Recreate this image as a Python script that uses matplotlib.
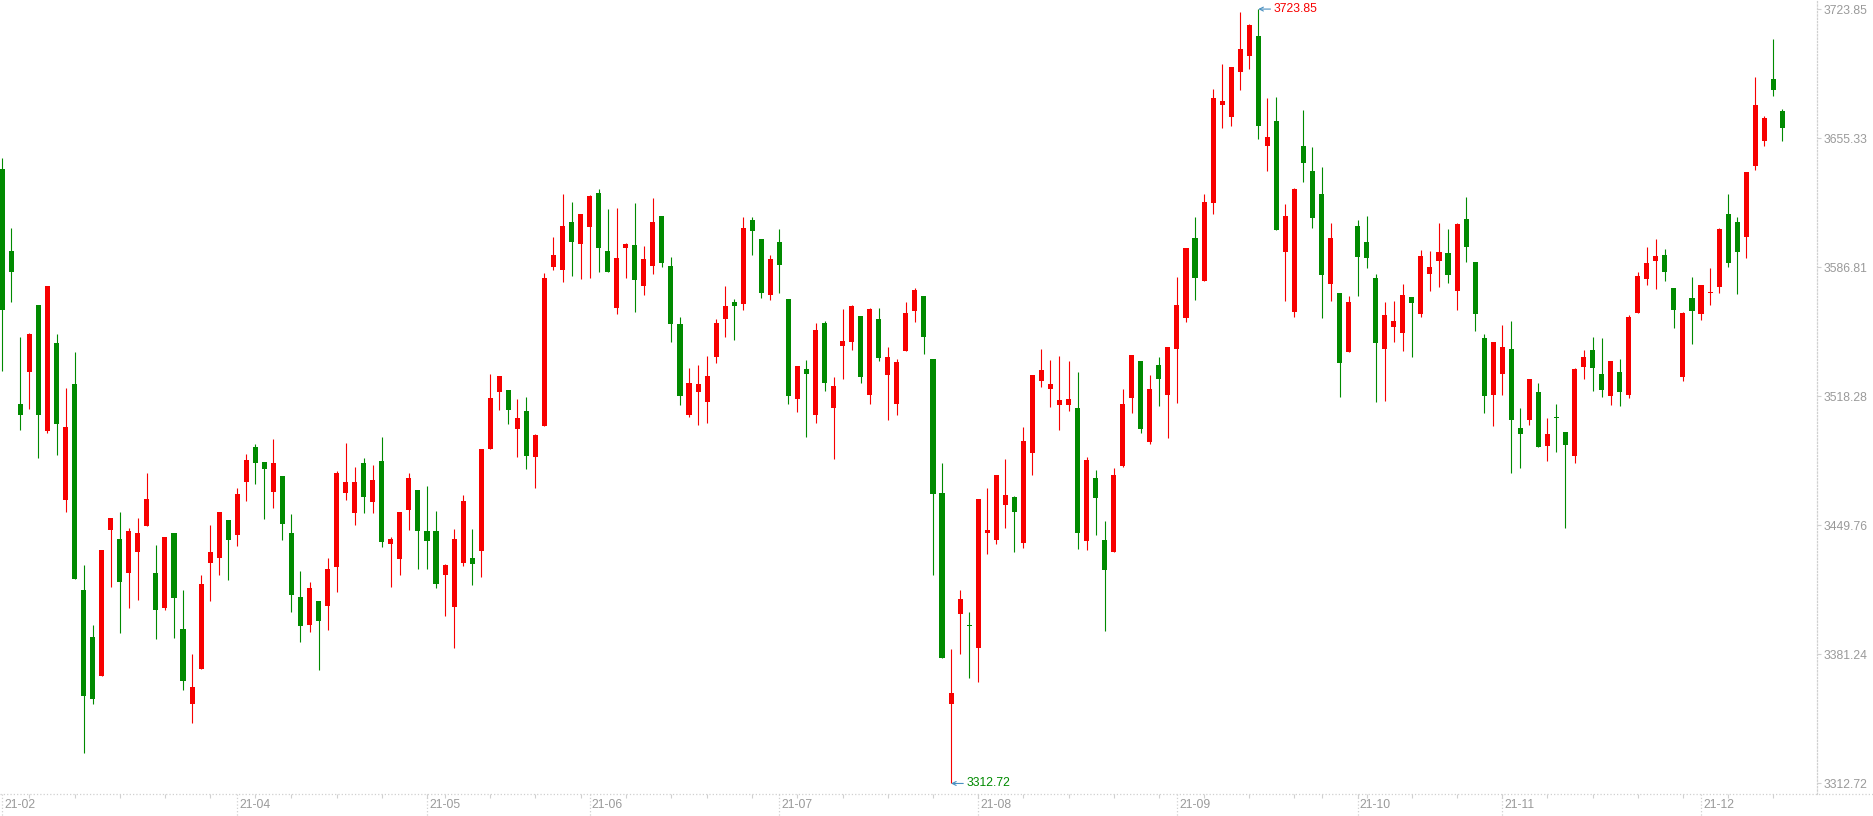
import matplotlib
matplotlib.use("Agg")
import matplotlib.pyplot as plt
import matplotlib.transforms as mtransforms
from matplotlib.lines import Line2D
import numpy as np
import pandas as pd

plt.rcParams["font.family"] = ["Liberation Sans", "DejaVu Sans"]

# trading days (weekdays minus exchange holidays)
holidays = ["2021-04-05", "2021-05-03", "2021-05-04", "2021-05-05", "2021-06-14",
            "2021-09-20", "2021-09-21", "2021-10-01", "2021-10-04", "2021-10-05",
            "2021-10-06", "2021-10-07"]
dates = pd.bdate_range("2021-02-24", "2021-12-14")
dates = dates[~dates.isin(pd.to_datetime(holidays))]

opens = [3639.0, 3595.6, 3514.4, 3531.0, 3566.8, 3499.8, 3546.7, 3463.1, 3524.9, 3415.7,
         3390.3, 3369.8, 3447.1, 3442.3, 3424.5, 3435.6, 3449.4, 3424.3, 3405.8, 3445.5,
         3394.5, 3354.9, 3373.6, 3429.7, 3432.5, 3452.4, 3444.6, 3472.7, 3491.6, 3483.6,
         3467.5, 3475.7, 3445.9, 3411.5, 3396.8, 3409.8, 3406.9, 3427.6, 3466.8, 3456.2,
         3483.0, 3462.0, 3484.0, 3439.8, 3431.8, 3457.8, 3468.3, 3446.5, 3446.5, 3423.5,
         3406.5, 3429.7, 3432.3, 3436.0, 3490.1, 3520.3, 3521.4, 3500.8, 3510.7, 3485.9,
         3502.3, 3586.8, 3585.1, 3610.9, 3599.3, 3608.4, 3626.2, 3595.6, 3565.0, 3596.8,
         3598.7, 3576.7, 3587.2, 3614.0, 3587.6, 3556.8, 3508.1, 3520.3, 3515.1, 3539.4,
         3559.1, 3568.5, 3567.1, 3611.9, 3601.9, 3572.3, 3600.2, 3570.0, 3516.7, 3532.9,
         3508.1, 3557.2, 3511.9, 3544.8, 3547.3, 3561.0, 3518.8, 3559.3, 3529.7, 3514.2,
         3542.5, 3563.3, 3571.7, 3537.9, 3467.0, 3354.7, 3402.7, 3397.0, 3384.4, 3445.9,
         3442.1, 3460.8, 3464.9, 3440.4, 3488.0, 3526.4, 3522.2, 3513.6, 3513.6, 3511.9,
         3441.7, 3475.0, 3441.9, 3435.8, 3481.3, 3517.4, 3536.9, 3493.9, 3535.1, 3519.0,
         3543.5, 3559.7, 3602.4, 3579.6, 3621.1, 3673.1, 3666.4, 3690.7, 3698.7, 3709.6,
         3650.9, 3664.5, 3594.7, 3562.8, 3651.3, 3638.1, 3625.7, 3577.7, 3573.3, 3541.6,
         3608.7, 3600.4, 3581.3, 3543.3, 3554.9, 3551.7, 3571.2, 3561.8, 3583.2, 3589.9,
         3594.5, 3574.1, 3612.5, 3589.7, 3549.0, 3519.0, 3530.1, 3543.5, 3501.2, 3505.6,
         3520.3, 3491.9, 3507.0, 3499.1, 3486.5, 3533.7, 3543.1, 3530.3, 3518.4, 3531.4,
         3519.0, 3562.4, 3580.4, 3589.9, 3593.4, 3576.0, 3528.4, 3570.6, 3561.8, 3572.9,
         3576.2, 3615.2, 3611.0, 3602.7, 3640.8, 3654.0, 3686.7, 3669.8]
highs = [3644.8, 3607.7, 3549.9, 3551.9, 3566.8, 3576.9, 3551.5, 3522.8, 3541.9, 3428.9,
         3396.6, 3436.9, 3453.9, 3457.0, 3448.6, 3453.9, 3477.7, 3439.2, 3443.8, 3445.5,
         3415.3, 3381.7, 3423.2, 3449.7, 3457.0, 3452.4, 3469.8, 3487.4, 3492.8, 3483.6,
         3495.4, 3475.7, 3455.9, 3425.3, 3419.9, 3409.8, 3432.3, 3478.8, 3493.7, 3480.9,
         3485.3, 3481.9, 3496.8, 3443.4, 3457.0, 3477.7, 3468.7, 3470.8, 3457.6, 3429.5,
         3447.6, 3466.0, 3447.6, 3490.5, 3530.2, 3529.1, 3521.4, 3517.0, 3518.0, 3498.1,
         3583.8, 3602.9, 3625.8, 3621.4, 3615.1, 3625.1, 3628.3, 3617.8, 3618.2, 3599.7,
         3620.9, 3598.1, 3623.7, 3614.0, 3592.2, 3560.6, 3533.5, 3535.0, 3539.8, 3559.5,
         3576.9, 3570.0, 3613.6, 3613.6, 3601.9, 3593.3, 3607.1, 3570.0, 3534.6, 3537.7,
         3557.2, 3558.5, 3528.7, 3564.7, 3566.8, 3561.0, 3565.2, 3565.2, 3544.4, 3537.9,
         3568.3, 3575.8, 3571.7, 3537.9, 3483.0, 3384.2, 3415.3, 3403.5, 3463.7, 3469.6,
         3476.7, 3485.1, 3465.4, 3501.8, 3529.5, 3543.4, 3537.5, 3539.6, 3536.9, 3531.2,
         3486.1, 3479.2, 3451.9, 3480.2, 3522.0, 3540.0, 3536.9, 3529.5, 3538.9, 3544.2,
         3581.7, 3597.2, 3613.6, 3625.7, 3681.5, 3694.7, 3693.2, 3722.4, 3715.9, 3723.85,
         3676.7, 3677.3, 3620.5, 3629.1, 3670.4, 3650.7, 3640.2, 3610.4, 3573.3, 3571.6,
         3612.1, 3614.2, 3583.4, 3568.5, 3569.1, 3578.1, 3571.2, 3596.2, 3595.5, 3610.4,
         3607.3, 3610.2, 3624.3, 3589.7, 3551.5, 3547.3, 3556.3, 3558.4, 3512.3, 3527.6,
         3525.5, 3507.0, 3514.4, 3499.1, 3533.5, 3543.1, 3550.0, 3549.4, 3537.2, 3537.9,
         3561.6, 3584.4, 3597.6, 3602.0, 3596.6, 3576.0, 3563.2, 3581.7, 3577.1, 3586.5,
         3607.7, 3625.7, 3613.6, 3637.5, 3687.8, 3667.0, 3707.9, 3670.8]
lows = [3531.6, 3568.1, 3500.2, 3511.7, 3485.5, 3498.7, 3487.0, 3456.8, 3421.4, 3328.7,
        3354.9, 3369.8, 3417.0, 3392.8, 3405.8, 3410.0, 3449.4, 3389.5, 3404.6, 3389.9,
        3362.4, 3345.0, 3373.6, 3409.6, 3423.5, 3420.7, 3438.8, 3462.7, 3471.7, 3453.0,
        3458.9, 3441.9, 3403.7, 3387.8, 3393.1, 3372.9, 3394.3, 3414.4, 3463.1, 3449.9,
        3456.2, 3456.2, 3438.1, 3417.0, 3423.5, 3447.1, 3426.6, 3426.6, 3416.5, 3401.6,
        3384.7, 3428.3, 3418.0, 3422.4, 3490.1, 3510.9, 3503.5, 3485.9, 3479.6, 3469.6,
        3502.3, 3585.1, 3578.8, 3581.9, 3580.3, 3581.3, 3584.0, 3584.0, 3561.8, 3581.3,
        3562.9, 3572.3, 3583.4, 3586.8, 3546.9, 3513.6, 3507.1, 3502.9, 3504.0, 3536.2,
        3549.7, 3548.4, 3564.3, 3593.5, 3570.2, 3569.2, 3573.3, 3514.0, 3510.2, 3496.6,
        3504.0, 3520.9, 3484.9, 3527.2, 3542.7, 3525.1, 3514.0, 3537.1, 3505.6, 3508.1,
        3542.5, 3557.8, 3540.8, 3423.4, 3379.4, 3312.72, 3381.3, 3368.9, 3366.6, 3434.5,
        3440.0, 3448.6, 3435.8, 3437.9, 3476.3, 3523.2, 3512.5, 3500.4, 3510.4, 3437.3,
        3436.9, 3444.8, 3393.5, 3435.8, 3480.5, 3509.4, 3498.9, 3492.8, 3513.1, 3496.1,
        3514.6, 3557.6, 3569.3, 3579.6, 3614.8, 3660.5, 3661.6, 3681.1, 3692.2, 3655.1,
        3637.7, 3606.4, 3568.7, 3560.5, 3631.8, 3607.5, 3559.7, 3568.7, 3517.7, 3541.6,
        3571.4, 3586.3, 3515.2, 3515.6, 3547.1, 3542.3, 3539.1, 3560.5, 3574.1, 3576.2,
        3578.3, 3563.9, 3589.4, 3552.8, 3509.3, 3502.4, 3519.0, 3477.5, 3480.2, 3503.1,
        3491.3, 3484.0, 3488.6, 3448.3, 3482.9, 3527.4, 3521.1, 3517.7, 3513.5, 3513.1,
        3517.3, 3562.4, 3577.3, 3575.2, 3579.4, 3554.4, 3526.3, 3545.8, 3558.6, 3566.6,
        3572.9, 3586.7, 3572.5, 3591.5, 3638.3, 3650.9, 3677.5, 3654.0]
closes = [3563.9, 3584.5, 3508.6, 3551.5, 3508.1, 3576.9, 3503.5, 3502.1, 3421.4, 3359.3,
          3357.6, 3436.9, 3453.4, 3419.7, 3446.9, 3445.9, 3463.5, 3404.8, 3443.8, 3411.1,
          3367.3, 3363.7, 3418.4, 3435.4, 3457.0, 3441.9, 3466.6, 3484.7, 3482.8, 3479.6,
          3482.6, 3450.5, 3412.8, 3396.4, 3416.7, 3398.9, 3426.8, 3477.7, 3472.9, 3472.9,
          3464.8, 3474.0, 3440.9, 3442.7, 3457.0, 3475.0, 3446.7, 3441.5, 3418.6, 3428.5,
          3442.3, 3462.9, 3429.1, 3490.5, 3517.6, 3529.1, 3510.9, 3506.9, 3486.6, 3497.5,
          3581.1, 3593.3, 3608.8, 3600.4, 3615.1, 3624.7, 3596.8, 3584.0, 3591.8, 3599.1,
          3579.8, 3591.2, 3610.9, 3589.3, 3556.4, 3518.2, 3525.5, 3524.9, 3529.1, 3557.2,
          3566.2, 3566.4, 3607.7, 3605.8, 3572.9, 3591.2, 3588.2, 3518.2, 3534.6, 3529.9,
          3553.6, 3525.1, 3523.9, 3547.8, 3566.2, 3528.3, 3564.7, 3538.7, 3538.9, 3536.6,
          3562.4, 3574.8, 3549.9, 3466.6, 3379.4, 3360.8, 3410.9, 3396.2, 3463.7, 3447.3,
          3476.7, 3466.0, 3457.0, 3494.3, 3529.5, 3532.0, 3524.9, 3516.1, 3517.1, 3445.9,
          3484.7, 3464.5, 3426.2, 3476.7, 3514.0, 3540.0, 3500.8, 3522.0, 3527.6, 3544.2,
          3567.0, 3597.2, 3581.3, 3621.5, 3676.7, 3675.2, 3693.2, 3702.7, 3715.5, 3662.0,
          3656.1, 3606.6, 3614.2, 3628.4, 3641.9, 3612.7, 3582.5, 3602.4, 3535.8, 3568.1,
          3592.2, 3591.5, 3546.5, 3561.6, 3558.4, 3572.3, 3567.6, 3593.0, 3587.1, 3595.1,
          3582.5, 3609.8, 3597.4, 3561.8, 3518.4, 3547.3, 3544.6, 3505.6, 3498.2, 3527.2,
          3491.3, 3498.4, 3506.6, 3492.4, 3533.0, 3539.3, 3533.3, 3521.5, 3537.2, 3520.5,
          3560.5, 3582.3, 3589.2, 3593.0, 3584.2, 3563.9, 3562.6, 3563.4, 3577.1, 3573.9,
          3607.3, 3588.8, 3594.7, 3637.5, 3672.9, 3666.2, 3680.7, 3660.9]

RED = "#f70000"
GREEN = "#008a00"
GRID = "#d0d0d0"
LABEL = "#9a9a9a"

o = np.array(opens)
h = np.array(highs)
l = np.array(lows)
c = np.array(closes)
x = np.arange(len(o))
cols = np.where(c >= o, RED, GREEN)

W, H = 1874, 816
fig = plt.figure(figsize=(W / 100, H / 100), dpi=100)
ax_h = 794 / H
ax = fig.add_axes([0, 1 - ax_h, 1817.3 / W, ax_h])

ax.vlines(x, l, h, colors=cols, linewidth=0.8)
body_low = np.minimum(o, c)
body_h = np.maximum(np.abs(c - o), 0.9)
ax.bar(x, body_h, bottom=body_low, width=0.56, color=cols, linewidth=0)

ax.set_xlim(-0.255, 200.87)
ax.set_ylim(3307.13, 3728.67)

# right price axis: evenly spaced between lowest low and highest high
levels = np.linspace(l.min(), h.max(), 7)
ax.yaxis.tick_right()
ax.set_yticks(levels)
ax.set_yticklabels([f"{v:.2f}" for v in levels])
ax.tick_params(axis="y", length=3, width=0.8, color=GRID, labelcolor=LABEL,
               labelsize=8.7, pad=1.5)

# weekly ticks on first trading day of each week
week = dates.isocalendar().week.values
week_idx = [i for i in range(1, len(dates)) if week[i] != week[i - 1]]
ax.set_xticks(week_idx)
ax.tick_params(axis="x", length=3, width=0.8, color=GRID, labelbottom=False)

for side in ["top", "left", "bottom"]:
    ax.spines[side].set_visible(False)
ax.spines["right"].set_linestyle(":")
ax.spines["right"].set_color(GRID)
ax.spines["right"].set_linewidth(0.9)

fig.add_artist(Line2D([0, 1], [1 - ax_h, 1 - ax_h], transform=fig.transFigure,
                      linestyle=":", color=GRID, linewidth=0.9))

# month labels on first trading day of each month (skip crowded ones)
blend = mtransforms.blended_transform_factory(ax.transData, ax.transAxes)
month_idx = [0] + [i for i in range(1, len(dates)) if dates[i].month != dates[i - 1].month]
last = -100
for i in month_idx:
    if i - last < 10:
        continue
    last = i
    ax.plot([i, i], [0, -22 / 794], transform=blend, linestyle=":", color=GRID,
            linewidth=0.9, clip_on=False)
    ax.text(i + 0.25, -10.7 / 794, dates[i].strftime("%y-%m"), transform=blend,
            ha="left", va="center", color=LABEL, fontsize=8.7)

# highest / lowest markers
imax = int(np.argmax(h))
imin = int(np.argmin(l))
for idx, val, col in [(imax, h[imax], RED), (imin, l[imin], GREEN)]:
    ax.annotate(f"{val:.2f}", xy=(idx, val), xytext=(15, 0), textcoords="offset pixels",
                ha="left", va="center", color=col, fontsize=8.7,
                arrowprops=dict(arrowstyle="->", color="#4a90c0", lw=0.8,
                                shrinkA=0, shrinkB=0, relpos=(0, 0.5),
                                mutation_scale=7))

fig.savefig("out.png", dpi=100)
